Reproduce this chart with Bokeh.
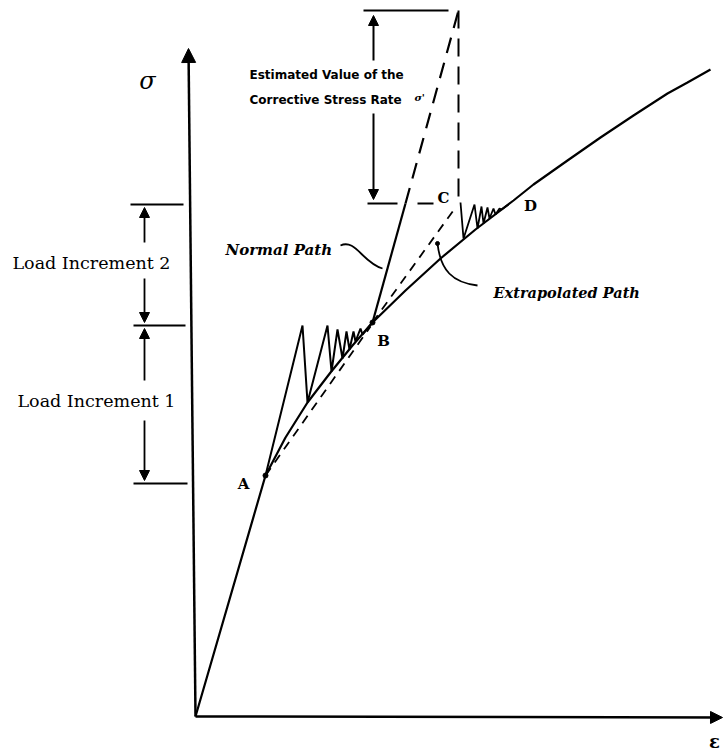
from bokeh.plotting import figure
from bokeh.models import Range1d, Arrow, NormalHead
from bokeh.core.properties import value
from bokeh.embed import file_html
from bokeh.resources import INLINE

# ---- data: strain (eps) and stress (sig) coordinates of the schematic ----
# main stress-strain curve O - A - B - D
curve_eps = [0, 70, 90, 112, 135, 157, 177, 210, 245, 280, 318, 338, 372, 405, 438, 472, 492, 515]
curve_sig = [0, 241, 279, 314, 344, 371, 394, 426, 458, 487, 516, 532, 556, 579, 601, 623, 634, 647]

# normal path iterations between A and B (sawtooth)
sawAB_eps = [70, 107, 112, 132, 136, 142, 147, 151, 154, 158, 160, 165, 167, 177]
sawAB_sig = [241, 391, 314, 391, 345, 387, 358, 385, 367, 385, 375, 388, 382, 394]

# iterations between C and D (sawtooth)
sawCD_eps = [265, 268, 279, 282, 286, 288, 292, 294, 298, 300, 304, 306, 313]
sawCD_sig = [514, 478, 512, 488, 510, 493, 509, 498, 508, 502, 508, 507, 512]

# normal path from B (solid part, dashed continuation)
normal_solid_eps = [177, 210]
normal_solid_sig = [394, 513]
normal_dash_eps = [210, 263]
normal_dash_sig = [513, 706]

# extrapolated (dashed) paths A->B and B->C
extrapAB_eps = [70, 175]
extrapAB_sig = [241, 390]
extrapBC_eps = [177, 260]
extrapBC_sig = [394, 509]

# vertical dashed line at C
vertC_eps = [263, 263]
vertC_sig = [706, 516]

# load levels
level_A = 233
level_B = 391
level_C = 512

# labels
point_labels = ["A", "B", "C", "D"]
point_eps = [48, 188, 248, 335]
point_sig = [233, 376, 519, 511]

p = figure(width=725, height=752, x_range=Range1d(-195, 530), y_range=Range1d(-36, 716),
           output_backend="svg", toolbar_location=None, min_border=0)
p.axis.visible = False
p.grid.visible = False
p.outline_line_color = None
p.background_fill_color = "white"

K = "black"

# axes with arrowheads
p.add_layout(Arrow(end=NormalHead(size=14, fill_color=K, line_color=K), x_start=0, y_start=0,
                   x_end=-7, y_end=668, line_width=2.5, line_color=K))
p.add_layout(Arrow(end=NormalHead(size=12, fill_color=K, line_color=K), x_start=0, y_start=0,
                   x_end=527, y_end=-1, line_width=2.5, line_color=K))

# main curve
p.line(curve_eps, curve_sig, line_color=K, line_width=2.2)
# sawtooth iterations
p.line(sawAB_eps, sawAB_sig, line_color=K, line_width=2)
p.line(sawCD_eps, sawCD_sig, line_color=K, line_width=1.8)
# normal path
p.line(normal_solid_eps, normal_solid_sig, line_color=K, line_width=2.2)
p.line(normal_dash_eps, normal_dash_sig, line_color=K, line_width=2.2, line_dash="16 10")
# extrapolated paths
p.line(extrapAB_eps, extrapAB_sig, line_color=K, line_width=1.8, line_dash="9 7")
p.line(extrapBC_eps, extrapBC_sig, line_color=K, line_width=1.8, line_dash="9 7")
p.line(vertC_eps, vertC_sig, line_color=K, line_width=2, line_dash="18 10")

# points
p.scatter([70, 177], [241, 394], size=5, color=K)
p.scatter([242], [473], size=4, color=K)

# dimension: corrective stress rate
p.line([168, 253], [706, 706], line_color=K, line_width=2)
p.line([172, 202], [level_C + 1, level_C + 1], line_color=K, line_width=2)
p.line([222, 238], [level_C + 1, level_C + 1], line_color=K, line_width=2)
p.add_layout(Arrow(end=NormalHead(size=10, fill_color=K, line_color=K), x_start=178, y_start=656,
                   x_end=178, y_end=701, line_width=2, line_color=K))
p.add_layout(Arrow(end=NormalHead(size=10, fill_color=K, line_color=K), x_start=178, y_start=603,
                   x_end=178, y_end=517, line_width=2, line_color=K))

# dimension: load increments
p.line([-65, -12], [level_C, level_C], line_color=K, line_width=2)
p.line([-62, -10], [level_B, level_B], line_color=K, line_width=2)
p.line([-62, -8], [level_A, level_A], line_color=K, line_width=2)
for (y0, y1) in [(474, 509), (438, 394), (336, 388), (296, 236)]:
    p.add_layout(Arrow(end=NormalHead(size=10, fill_color=K, line_color=K), x_start=-51, y_start=y0,
                       x_end=-51, y_end=y1, line_width=1.8, line_color=K))

# leader curves
p.bezier(x0=[145], y0=[471], x1=[187], y1=[448], cx0=[160], cy0=[478], cx1=[167], cy1=[454],
         line_color=K, line_width=1.8)
p.bezier(x0=[242], y0=[473], x1=[282], y1=[431], cx0=[245], cy0=[446], cx1=[257], cy1=[434],
         line_color=K, line_width=1.8)

# texts
p.text([54], [642], text=["Estimated Value of the"], text_font=value("DejaVu Sans"),
       text_font_style="bold", text_font_size="12px", text_baseline="middle", text_align="left")
p.text([54], [617], text=["Corrective Stress Rate"], text_font=value("DejaVu Sans"),
       text_font_style="bold", text_font_size="12px", text_baseline="middle", text_align="left")
p.text([219], [619], text=["σ'"], text_font=value("DejaVu Serif"),
       text_font_style="bold italic", text_font_size="10px", text_baseline="middle", text_align="left")
p.text([-104, -99], [454, 316], text=["Load Increment 2", "Load Increment 1"],
       text_font=value("DejaVu Serif"), text_font_size="17.5px", text_baseline="middle", text_align="center")
p.text([30], [467], text=["Normal Path"], text_font=value("DejaVu Serif"),
       text_font_style="bold italic", text_font_size="15px", text_baseline="middle", text_align="left")
p.text([298], [424], text=["Extrapolated Path"], text_font=value("DejaVu Serif"),
       text_font_style="bold italic", text_font_size="14.5px", text_baseline="middle", text_align="left")
p.text(point_eps, point_sig, text=point_labels, text_font=value("DejaVu Serif"),
       text_font_style="bold", text_font_size="15px", text_baseline="middle", text_align="center")
p.text([-48], [636], text=["σ"], text_font=value("DejaVu Serif"), text_font_style="italic",
       text_font_size="24px", text_baseline="middle", text_align="center")
p.text([519], [-25], text=["ε"], text_font=value("DejaVu Serif"), text_font_style="bold",
       text_font_size="18px", text_baseline="middle", text_align="center")

open("out.html", "w").write(file_html(p, INLINE))
